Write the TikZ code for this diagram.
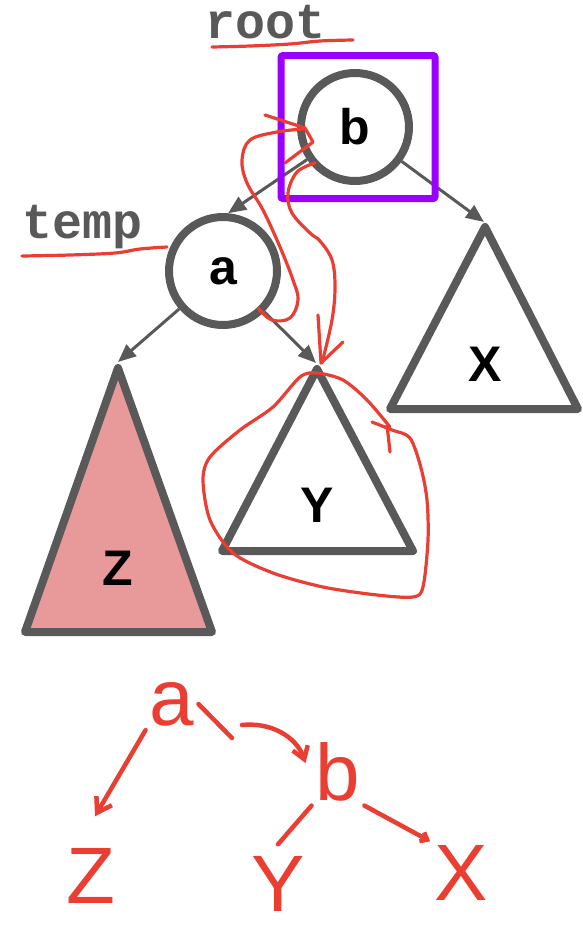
\documentclass[tikz,border=0pt]{standalone}
\usepackage{fontspec}
\setmainfont{Liberation Sans}
\newfontfamily\codefont{Liberation Mono}
\usetikzlibrary{arrows.meta,positioning}
\definecolor{treegray}{RGB}{89,89,89}
\definecolor{rootpurple}{RGB}{153,0,255}
\definecolor{penred}{RGB}{234,62,50}
\definecolor{subpink}{RGB}{232,153,153}

\begin{document}
\begin{tikzpicture}[x=1pt,y=-1pt,
    treenode/.style={draw=treegray, circle, line width=8pt, minimum size=108pt, inner sep=0pt, font=\fontsize{50}{50}\selectfont\bfseries},
    subtree/.style={draw=treegray, line width=8pt, line join=round},
    subname/.style={font=\fontsize{50}{50}\selectfont\bfseries},
    ptrname/.style={text=treegray, font=\fontsize{50}{50}\selectfont\codefont\bfseries},
    treeedge/.style={draw=treegray, line width=3pt, -{Triangle[length=18pt,width=15pt]}},
    pen/.style={draw=penred, line width=3.2pt, line cap=round, line join=round},
    thickpen/.style={pen, line width=4.5pt},
    hand/.style={text=penred, inner sep=4pt, font=\fontsize{80}{80}\selectfont}]
    \useasboundingbox (0,0) rectangle (582,937);

    \node[treenode] (b) at (355,127) {b};
    \node[treenode] (a) at (223,271) {a};
    \coordinate (Xtop) at (484,222);
    \coordinate (Ytop) at (316,363);
    \coordinate (Ztop) at (118,362);

    \draw[subtree, fill=subpink] (118,368) -- (25,632) -- (212,632) -- cycle;
    \draw[subtree] (485,227) -- (390,409) -- (578,409) -- cycle;
    \draw[subtree] (317,369) -- (222,551) -- (413,551) -- cycle;
    \node[subname] (Z) at (118,568) {Z};
    \node[subname] (Y) at (317,505) {Y};
    \node[subname] (X) at (485,364) {X};

    \draw[treeedge] (b) -- (a.85);
    \draw[treeedge] (b) -- (Xtop);
    \draw[treeedge] (a) -- (Ztop);
    \draw[treeedge] (a) -- (Ytop);

    \node[draw=rootpurple, line width=7pt, rounded corners=2pt, minimum width=154pt, minimum height=143pt] (rootbox) at (358,127) {};

    \node[ptrname] (rootptr) at (266,22) {root};
    \node[ptrname] (tempptr) at (83,227) {temp};
    \draw[pen] plot[smooth, tension=0.6] coordinates {(212,47) (250,46) (290,44) (320,41) (353,40)};
    \draw[pen] plot[smooth, tension=0.6] coordinates {(22,256) (70,255) (115,253) (140,249) (167,247)};

    \draw[pen] plot[smooth, tension=0.6] coordinates {(258,308) (272,320) (290,318) (298,300) (293,280) (280,247) (263,210) (247,183) (242,160) (250,140) (277,132) (303,129)};
    \draw[pen] (265,115) -- (305,128) -- (313,142) -- (285,163);
    \draw[pen] plot[smooth, tension=0.6] coordinates {(315,163) (297,172) (288,193) (292,213) (310,233) (320,241) (332,260) (335,287) (332,320) (322,363)};
    \draw[pen] (318,315) -- (321,363) -- (343,342);

    \draw[pen] plot[smooth, tension=0.5] coordinates {(372,422) (392,430) (410,438) (421,468) (427,500) (428,540) (423,587) (413,597) (377,595) (323,587) (273,573) (233,553) (210,520) (203,480) (210,457) (240,430) (273,407) (300,377) (317,373) (343,380) (367,400) (390,427)};
    \draw[pen] (387,425) -- (390,452);

    \node[hand] (ha) at (172,704) {a};
    \node[hand] (hb) at (338,772) {b};
    \node[hand] (hz) at (91,876) {Z};
    \node[hand] (hy) at (278,884) {Y};
    \node[hand] (hx) at (461,873) {X};
    \coordinate (atail) at (232,738);
    \coordinate (turnstart) at (242,725);

    \draw[thickpen, -{Straight Barb[length=14pt,width=18pt]}] (ha.south west) -- ([xshift=4pt,yshift=28pt]hz.north);
    \draw[thickpen] (ha.east) -- (atail);
    \draw[thickpen, -{Straight Barb[length=12pt,width=16pt]}] (turnstart) .. controls (270,722) and (296,736) .. ([xshift=-6pt,yshift=9pt]hb.west);
    \draw[thickpen] (hb.south west) -- ([yshift=8pt]hy.north);
    \draw[thickpen, -{Straight Barb[length=6pt,width=10pt]}] (hb.south east) -- (hx.north west);
\end{tikzpicture}
\end{document}
